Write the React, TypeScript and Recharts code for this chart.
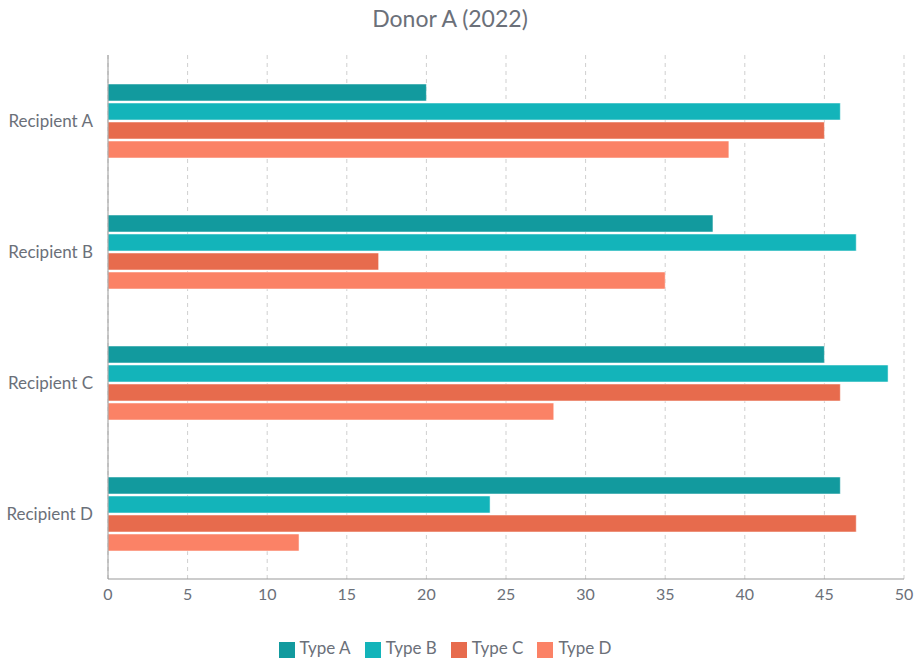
import React from 'react'
import { BarChart, Bar, XAxis, YAxis, CartesianGrid, Legend } from 'recharts'

const recipients = ['Recipient A', 'Recipient B', 'Recipient C', 'Recipient D']
const typeA = [20, 38, 45, 46]
const typeB = [46, 47, 49, 24]
const typeC = [45, 17, 46, 47]
const typeD = [39, 35, 28, 12]
const xTicks = [0, 5, 10, 15, 20, 25, 30, 35, 40, 45, 50]

const seriesConfig = [
  { key: 'typeA', name: 'Type A', fill: '#129a9e' },
  { key: 'typeB', name: 'Type B', fill: '#13b4ba' },
  { key: 'typeC', name: 'Type C', fill: '#e76b4d' },
  { key: 'typeD', name: 'Type D', fill: '#fb8266' },
]

const data = recipients.map((name, i) => ({
  name,
  typeA: typeA[i],
  typeB: typeB[i],
  typeC: typeC[i],
  typeD: typeD[i],
}))

const font = 'Lato, "Open Sans", sans-serif'

export default function App() {
  return (
    <div style={{ position: 'absolute', left: 0, top: 0, width: 915, height: 658, fontFamily: font, background: '#fff' }}>
      <div
        style={{
          position: 'absolute',
          top: 4,
          left: 0,
          width: 900,
          textAlign: 'center',
          fontSize: 23,
          color: '#6b7079',
        }}
      >
        Donor A (2022)
      </div>
      <BarChart
        width={915}
        height={658}
        data={data}
        layout="vertical"
        margin={{ top: 55, right: 11, left: 0, bottom: 0 }}
        barSize={17}
        barGap={2}
      >
        <CartesianGrid horizontal={false} strokeDasharray="4 4" stroke="#cfcfcf" />
        <XAxis
          type="number"
          domain={[0, 50]}
          ticks={xTicks}
          height={30}
          tickLine={false}
          tickMargin={4}
          axisLine={{ stroke: '#999' }}
          tick={{ fill: '#6b7079', fontSize: 16, fontFamily: font }}
        />
        <YAxis
          type="category"
          dataKey="name"
          width={108}
          tickLine={false}
          tickMargin={9}
          axisLine={{ stroke: '#999' }}
          tick={{ fill: '#6b7079', fontSize: 17, fontFamily: font }}
        />
        <Legend
          iconType="square"
          iconSize={16}
          wrapperStyle={{ fontFamily: font, fontSize: 17, color: '#6b7079', paddingTop: 28 }}
          formatter={(value) => (
            <span style={{ color: '#6b7079', marginLeft: 1, marginRight: 4 }}>{value}</span>
          )}
        />
        {seriesConfig.map((s) => (
          <Bar
            key={s.key}
            dataKey={s.key}
            name={s.name}
            fill={s.fill}
            stroke="rgba(255,255,255,0.5)"
            strokeWidth={1}
            isAnimationActive={false}
          />
        ))}
      </BarChart>
    </div>
  )
}
